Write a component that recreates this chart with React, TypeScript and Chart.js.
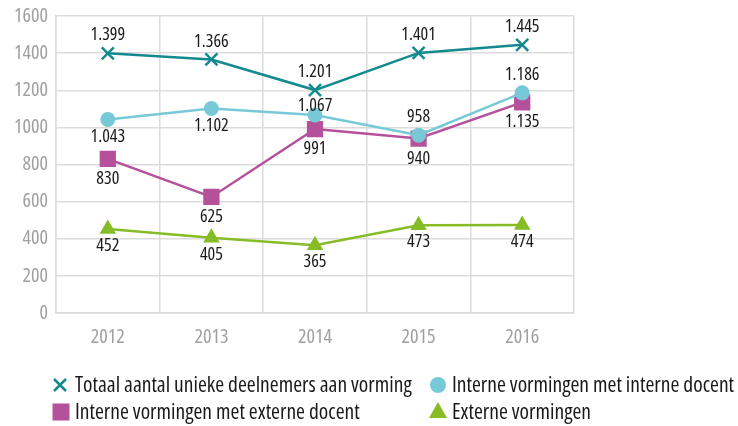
import React, { useEffect, useRef } from "react";
import { Chart, registerables } from "chart.js";

Chart.register(...registerables);

const categories = ["2012", "2013", "2014", "2015", "2016"];
const totaal = [1399, 1366, 1201, 1401, 1445];
const interneIntern = [1043, 1102, 1067, 958, 1186];
const interneExtern = [830, 625, 991, 940, 1135];
const externe = [452, 405, 365, 473, 474];

const totaalPos = ["above", "above", "above", "above", "above"];
const interneInternPos = ["below", "below", "near", "above", "above"];
const interneExternPos = ["below", "below", "below", "below", "below"];
const externePos = ["below", "below", "below", "below", "below"];

const seriesNames = [
  "Totaal aantal unieke deelnemers aan vorming",
  "Interne vormingen met interne docent",
  "Interne vormingen met externe docent",
  "Externe vormingen",
];

const yMin = 0;
const yMax = 1600;
const yStep = 200;

const FONT = "'Open Sans', 'DejaVu Sans Condensed', sans-serif";

const C_TEAL = "#148a8f";
const C_LBLUE = "#78c9d7";
const C_MAG = "#b5519b";
const C_GREEN = "#86bc25";

function fmt(v: number): string {
  const s = String(Math.round(v));
  return s.replace(/\B(?=(\d{3})+(?!\d))/g, ".");
}

function condense(canvas: HTMLCanvasElement) {
  const ctx: any = canvas.getContext("2d");
  const desc = Object.getOwnPropertyDescriptor(CanvasRenderingContext2D.prototype, "font");
  if (!ctx || !desc || !desc.set || !desc.get) return;
  Object.defineProperty(ctx, "font", {
    configurable: true,
    get() {
      return desc.get!.call(this);
    },
    set(v: string) {
      desc.set!.call(this, v);
      this.fontStretch = "condensed";
    },
  });
  ctx.fontStretch = "condensed";
}

function drawMarker(ctx: CanvasRenderingContext2D, style: string, x: number, y: number, color: string) {
  ctx.save();
  ctx.fillStyle = color;
  ctx.strokeStyle = color;
  if (style === "crossRot") {
    ctx.lineWidth = 2.5;
    const d = 6;
    ctx.beginPath();
    ctx.moveTo(x - d, y - d);
    ctx.lineTo(x + d, y + d);
    ctx.moveTo(x + d, y - d);
    ctx.lineTo(x - d, y + d);
    ctx.stroke();
  } else if (style === "rect") {
    ctx.fillRect(x - 8.5, y - 8.5, 17, 17);
  } else if (style === "circle") {
    ctx.beginPath();
    ctx.arc(x, y, 8, 0, Math.PI * 2);
    ctx.fill();
  } else if (style === "triangle") {
    ctx.beginPath();
    ctx.moveTo(x, y - 10);
    ctx.lineTo(x + 9, y + 6);
    ctx.lineTo(x - 9, y + 6);
    ctx.closePath();
    ctx.fill();
  }
  ctx.restore();
}

const labelPlugin = {
  id: "valueLabels",
  afterDatasetsDraw(chart: any) {
    const ctx = chart.ctx as CanvasRenderingContext2D;
    ctx.save();
    ctx.font = `18px ${FONT}`;
    ctx.fillStyle = "#1a1a1a";
    ctx.textAlign = "center";
    ctx.textBaseline = "middle";
    chart.data.datasets.forEach((ds: any, i: number) => {
      const meta = chart.getDatasetMeta(i);
      const pos: string[] = ds.labelPos;
      meta.data.forEach((pt: any, j: number) => {
        const p = pos[j];
        let off = 0;
        if (p === "above") off = -18;
        else if (p === "near") off = -9;
        else off = ds.pointStyle === "rect" ? 20 : 17;
        ctx.fillText(fmt(ds.data[j]), pt.x, pt.y + off);
      });
    });
    ctx.restore();
  },
};

const legendPlugin = {
  id: "customLegend",
  afterDraw(chart: any) {
    const ctx = chart.ctx as CanvasRenderingContext2D;
    const slots = [
      { mx: 60, tx: 75, y: 385 },
      { mx: 438, tx: 452, y: 385 },
      { mx: 61, tx: 75, y: 412 },
      { mx: 438, tx: 452, y: 412 },
    ];
    ctx.save();
    ctx.font = `21.5px ${FONT}`;
    ctx.fillStyle = "#1a1a1a";
    ctx.textAlign = "left";
    ctx.textBaseline = "middle";
    chart.data.datasets.forEach((ds: any, i: number) => {
      const s = slots[i];
      drawMarker(ctx, ds.pointStyle, s.mx, s.y, ds.borderColor);
      ctx.fillStyle = "#1a1a1a";
      ctx.fillText(ds.label, s.tx, s.y + 1);
    });
    ctx.restore();
  },
};

export default function App() {
  const ref = useRef<HTMLCanvasElement | null>(null);

  useEffect(() => {
    document.body.style.margin = "0";
    if (!ref.current) return;
    condense(ref.current);
    const chart = new Chart(ref.current, {
      type: "line",
      data: {
        labels: categories,
        datasets: [
          {
            label: seriesNames[0],
            data: totaal,
            borderColor: C_TEAL,
            backgroundColor: C_TEAL,
            borderWidth: 2.5,
            pointStyle: "crossRot",
            pointRadius: 8.5,
            pointBorderWidth: 2.5,
            labelPos: totaalPos,
          } as any,
          {
            label: seriesNames[1],
            data: interneIntern,
            borderColor: C_LBLUE,
            backgroundColor: C_LBLUE,
            borderWidth: 2.5,
            pointStyle: "circle",
            pointRadius: 7.5,
            pointBorderWidth: 0,
            labelPos: interneInternPos,
          } as any,
          {
            label: seriesNames[2],
            data: interneExtern,
            borderColor: C_MAG,
            backgroundColor: C_MAG,
            borderWidth: 2.5,
            pointStyle: "rect",
            pointRadius: 11.5,
            pointBorderWidth: 0,
            labelPos: interneExternPos,
          } as any,
          {
            label: seriesNames[3],
            data: externe,
            borderColor: C_GREEN,
            backgroundColor: C_GREEN,
            borderWidth: 2.5,
            pointStyle: "triangle",
            pointRadius: 9.5,
            pointBorderWidth: 0,
            labelPos: externePos,
          } as any,
        ],
      },
      options: {
        animation: false,
        responsive: false,
        layout: { padding: { left: 0, top: 16, right: 164, bottom: 73 } },
        plugins: {
          legend: { display: false },
          tooltip: { enabled: false },
        },
        scales: {
          x: {
            offset: true,
            grid: { offset: true, color: "#dcdcdc", lineWidth: 1.5, drawTicks: false },
            border: { color: "#dcdcdc", width: 1.5 },
            ticks: { color: "#a0a0a0", font: { family: FONT, size: 20 }, padding: 12 },
            afterFit: (s: any) => {
              s.height = 40;
            },
          },
          y: {
            min: yMin,
            max: yMax,
            grid: { color: "#dcdcdc", lineWidth: 1.5, drawTicks: false },
            border: { color: "#dcdcdc", width: 1.5 },
            ticks: {
              stepSize: yStep,
              color: "#a0a0a0",
              font: { family: FONT, size: 20 },
              padding: 8,
              callback: (v: any) => String(v),
            },
            afterFit: (s: any) => {
              s.width = 56;
              s.paddingTop = 0;
              s.paddingBottom = 0;
            },
          },
        },
      },
      plugins: [labelPlugin, legendPlugin],
    });
    return () => chart.destroy();
  }, []);

  return (
    <div style={{ width: 738, height: 426 }}>
      <canvas ref={ref} width={738} height={426} />
    </div>
  );
}
